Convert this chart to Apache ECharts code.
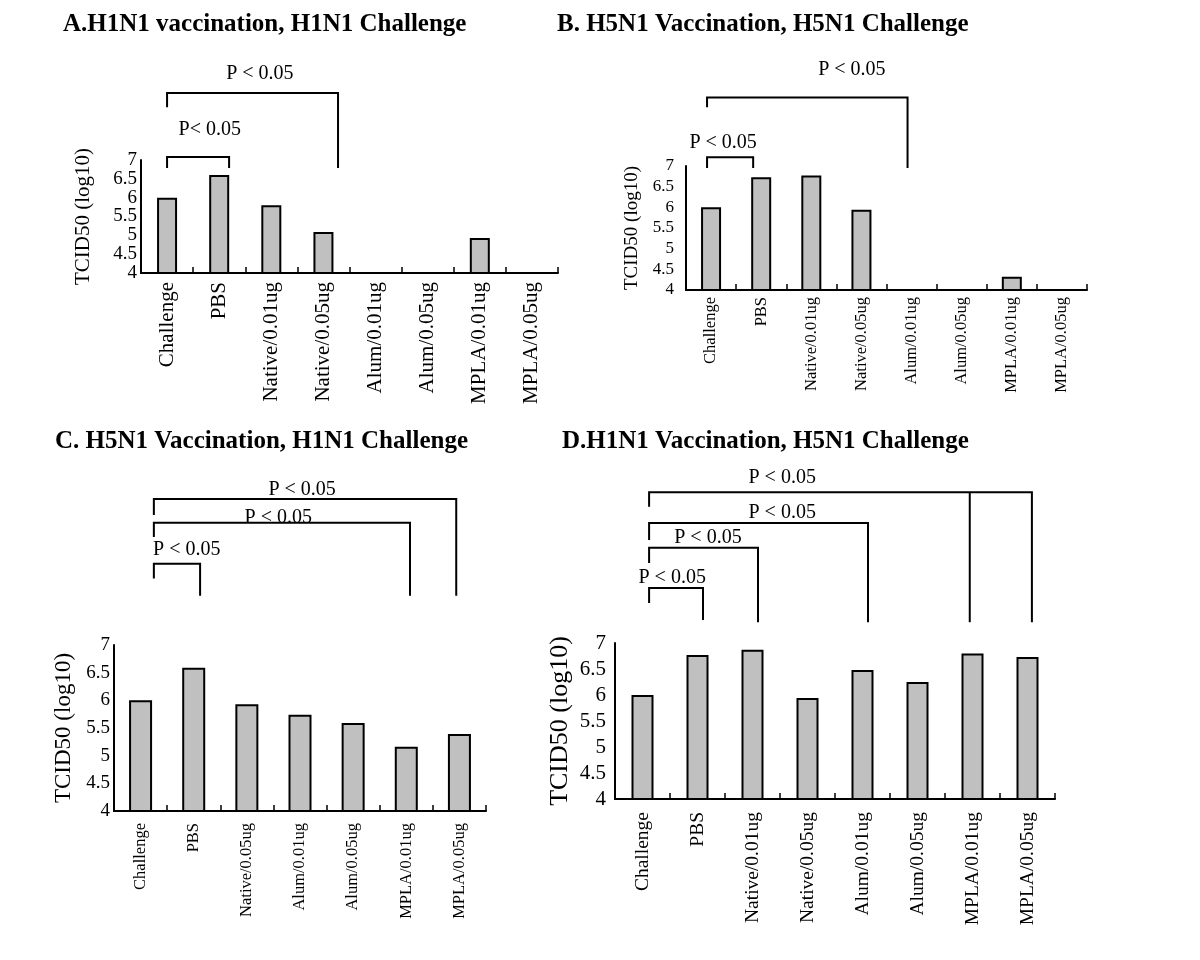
<!DOCTYPE html>
<html>
<head>
<meta charset="utf-8">
<script src="https://cdn.jsdelivr.net/npm/echarts@6/dist/echarts.min.js"></script>
<style>html,body{margin:0;padding:0;background:#fff}#c{width:1200px;height:960px}</style>
</head>
<body>
<div id="c"></div>
<script>
// ---- data ----
const catsA = ['Challenge','PBS','Native/0.01ug','Native/0.05ug','Alum/0.01ug','Alum/0.05ug','MPLA/0.01ug','MPLA/0.05ug'];
const valsA = [6.0, 6.6, 5.8, 5.09, 4, 4, 4.93, 4];
const catsB = ['Challenge','PBS','Native/0.01ug','Native/0.05ug','Alum/0.01ug','Alum/0.05ug','MPLA/0.01ug','MPLA/0.05ug'];
const valsB = [6.0, 6.73, 6.77, 5.94, 4, 4, 4.32, 4];
const catsC = ['Challenge','PBS','Native/0.05ug','Alum/0.01ug','Alum/0.05ug','MPLA/0.01ug','MPLA/0.05ug'];
const valsC = [6.0, 6.59, 5.93, 5.74, 5.59, 5.16, 5.39];
const catsD = ['Challenge','PBS','Native/0.01ug','Native/0.05ug','Alum/0.01ug','Alum/0.05ug','MPLA/0.01ug','MPLA/0.05ug'];
const valsD = [6.0, 6.77, 6.87, 5.94, 6.48, 6.25, 6.8, 6.73];
const yTicks = [4, 4.5, 5, 5.5, 6, 6.5, 7];
const titles = ['A.H1N1 vaccination, H1N1 Challenge','B. H5N1 Vaccination, H5N1 Challenge','C. H5N1 Vaccination, H1N1 Challenge','D.H1N1 Vaccination, H5N1 Challenge'];
const yName = 'TCID50 (log10)';
// significance brackets: [leftCat, rightCat, topValue, leftFootValue, rightFootValue, labelCat, labelValue]
const brA = [[0.0, 3.28, 8.78, 8.4, 6.79, 1.78, 9.3], [0.0, 1.19, 7.08, 6.79, 6.79, 0.82, 7.8]];
const brLabA = ['P < 0.05', 'P< 0.05'];
const brB = [[-0.08, 3.92, 8.66, 8.42, 6.95, 2.81, 9.34], [-0.08, 0.84, 7.21, 6.95, 6.95, 0.24, 7.57]];
const brLabB = ['P < 0.05', 'P < 0.05'];
const brC = [[0.25, 5.94, 9.64, 9.35, 7.89, 3.04, 9.8], [0.25, 5.07, 9.21, 8.95, 7.89, 2.59, 9.3], [0.25, 1.12, 8.47, 8.2, 7.89, 0.87, 8.72]];
const brLabC = ['P < 0.05', 'P < 0.05', 'P < 0.05'];
const brD = [[0.12, 7.08, 9.9, 9.62, 7.4, 2.54, 10.17], [0.12, 4.1, 9.31, 8.98, 7.4, 2.54, 9.5], [0.12, 2.1, 8.83, 8.54, 7.4, 1.19, 9.02], [0.12, 1.1, 8.06, 7.77, 7.44, 0.54, 8.25], [5.95, 5.95, 9.9, 9.9, 7.4, 5.95, 9.9]];
const brLabD = ['P < 0.05', 'P < 0.05', 'P < 0.05', 'P < 0.05', ''];

// ---- layout ----
const SERIF = '"Liberation Serif", "Times New Roman", serif';
const panels = [
  {cats: catsA, vals: valsA, br: brA, lab: brLabA, grid: {left: 141, top: 160, width: 417, height: 113}, barW: 20, catFont: 21, catMargin: 9, tickFont: 19, tickMargin: 4, nameFont: 21, nameGap: 47, title: {left: 63, top: 12}},
  {cats: catsB, vals: valsB, br: brB, lab: brLabB, grid: {left: 686, top: 166, width: 401, height: 124}, barW: 20, catFont: 16.5, catMargin: 7, tickFont: 17, tickMargin: 12, nameFont: 19, nameGap: 44, title: {left: 557, top: 12}},
  {cats: catsC, vals: valsC, br: brC, lab: brLabC, grid: {left: 114, top: 645, width: 372, height: 166}, barW: 23, catFont: 16.5, catMargin: 12, tickFont: 19, tickMargin: 4, nameFont: 23, nameGap: 39, title: {left: 55, top: 429}},
  {cats: catsD, vals: valsD, br: brD, lab: brLabD, grid: {left: 615, top: 643, width: 440, height: 156}, barW: 22, catFont: 19.5, catMargin: 13, tickFont: 21, tickMargin: 9, nameFont: 26, nameGap: 42, title: {left: 562, top: 429}}
];

const option = {
  backgroundColor: '#fff',
  animation: false,
  title: [], grid: [], xAxis: [], yAxis: [], series: []
};

panels.forEach((p, g) => {
  option.title.push({text: titles[g], left: p.title.left, top: p.title.top, padding: 0,
    textStyle: {fontFamily: SERIF, fontWeight: 'bold', fontSize: 25, color: '#000'}});
  option.grid.push(Object.assign({containLabel: false}, p.grid));
  option.xAxis.push({
    type: 'category', gridIndex: g, data: p.cats,
    axisLine: {onZero: false, lineStyle: {color: '#000', width: 2}},
    axisTick: {show: true, inside: true, length: 6, lineStyle: {color: '#000', width: 1.5}},
    axisLabel: {rotate: 90, interval: 0, margin: p.catMargin, color: '#000', fontFamily: SERIF, fontSize: p.catFont},
    splitLine: {show: false}
  });
  option.xAxis.push({type: 'value', gridIndex: g, show: false, min: -0.5, max: p.cats.length - 0.5});
  option.yAxis.push({
    type: 'value', gridIndex: g,
    min: yTicks[0], max: yTicks[yTicks.length - 1], interval: yTicks[1] - yTicks[0],
    name: yName, nameLocation: 'middle', nameGap: p.nameGap,
    nameTextStyle: {fontFamily: SERIF, fontSize: p.nameFont, color: '#000'},
    axisLine: {show: true, onZero: false, lineStyle: {color: '#000', width: 2}},
    axisTick: {show: false},
    axisLabel: {color: '#000', fontFamily: SERIF, fontSize: p.tickFont, margin: p.tickMargin, showMinLabel: true, showMaxLabel: true, hideOverlap: false},
    splitLine: {show: false}
  });
  option.series.push({
    type: 'bar', xAxisIndex: 2 * g, yAxisIndex: g, data: p.vals, barWidth: p.barW,
    itemStyle: {color: '#c0c0c0', borderColor: '#000', borderWidth: 2}
  });
  const br = p.br, lab = p.lab;
  option.series.push({
    type: 'custom', xAxisIndex: 2 * g + 1, yAxisIndex: g, clip: false, silent: true,
    data: br,
    encode: {x: [0, 1, 5], y: [2, 3, 4, 6]},
    renderItem: function (params, api) {
      const b = br[params.dataIndex];
      const pts = [api.coord([b[0], b[3]]), api.coord([b[0], b[2]]), api.coord([b[1], b[2]]), api.coord([b[1], b[4]])];
      const children = [{type: 'polyline', shape: {points: pts}, style: {stroke: '#000', lineWidth: 2, fill: null}}];
      const t = lab[params.dataIndex];
      if (t) {
        const tp = api.coord([b[5], b[6]]);
        children.push({type: 'text', x: tp[0], y: tp[1], style: {text: t, font: '20px ' + SERIF, fill: '#000', align: 'center', verticalAlign: 'middle'}});
      }
      return {type: 'group', children: children};
    }
  });
});

const chart = echarts.init(document.getElementById('c'), null, {renderer: 'canvas'});
chart.setOption(option);
</script>
</body>
</html>
